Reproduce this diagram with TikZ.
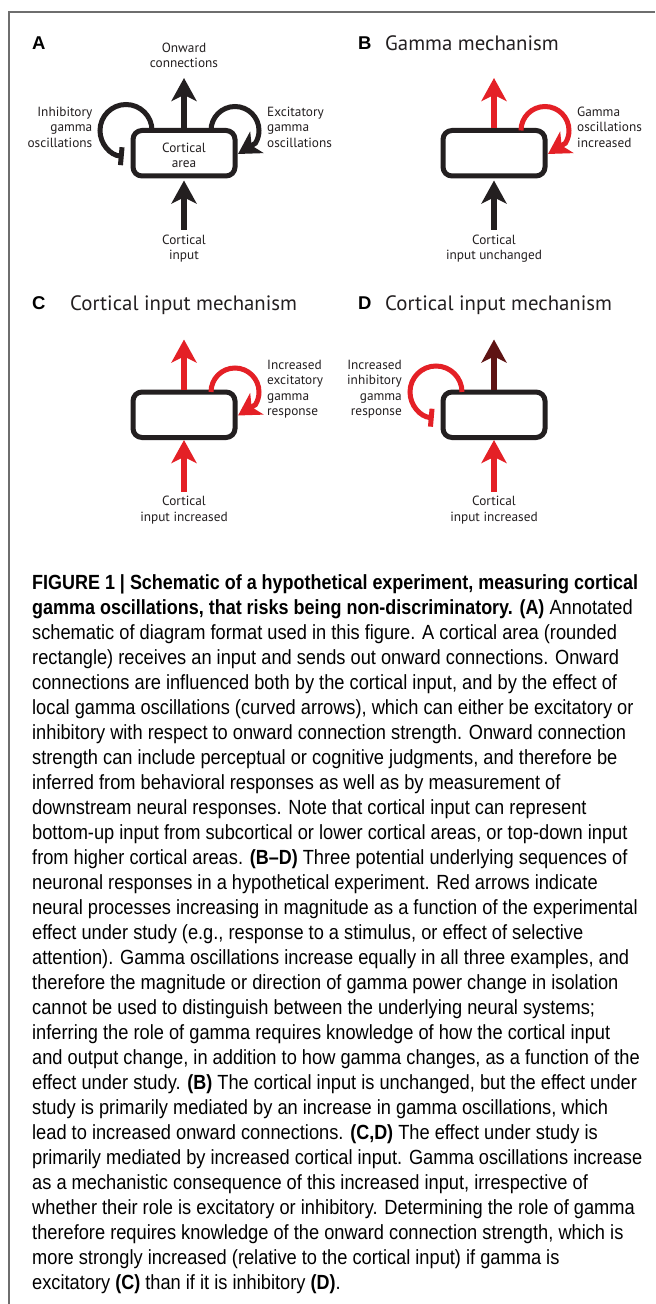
\documentclass[tikz,border=0pt]{standalone}
\usepackage{fontspec}
\usetikzlibrary{arrows.meta}
\newfontfamily\diagfont{PT Sans}
\newfontfamily\letfont{Liberation Sans}
\newfontfamily\capfont{Liberation Sans}[FakeStretch=0.89, BoldFeatures={FakeStretch=0.876}]
\definecolor{myred}{RGB}{228,32,38}
\definecolor{darkred}{RGB}{94,20,20}
\definecolor{framegray}{RGB}{110,110,110}
\definecolor{ink}{RGB}{35,31,32}
\tikzset{
  cbox/.style={draw=ink, line width=5bp, rounded corners=9bp, minimum width=102bp, minimum height=45.5bp, inner sep=0pt},
  shaft/.style={line width=6bp, -{Stealth[length=23bp,width=25bp,inset=6bp]}},
  loopexc/.style={line width=5bp, -{Stealth[length=22bp,width=25bp,inset=6bp]}},
  loopinh/.style={line width=5bp, -{Bar[width=18bp]}},
  lbl/.style={inner sep=0pt, text=ink, font=\diagfont\fontsize{13.3bp}{15.5bp}\selectfont},
  letter/.style={inner sep=0pt, text=black, font=\letfont\bfseries\fontsize{18.5bp}{20bp}\selectfont},
  paneltitle/.style={inner sep=0pt, text=ink, font=\diagfont\fontsize{20.8bp}{24bp}\selectfont},
  capl/.style={inner sep=0pt, anchor=base west, text=black, font=\capfont\fontsize{20.5bp}{25bp}\selectfont},
  framel/.style={draw=framegray, line width=1.5bp}
}
\begin{document}
\begin{tikzpicture}[x=1bp, y=-1bp]
\useasboundingbox (0,0) rectangle (655,1304);
\fill[white] (0,0) rectangle (655,1304);
\draw[framel] (9,1304) -- (9,12) -- (655,12);

% titles
\node[letter, anchor=base west] (labA) at (32,50) {A};
\node[letter, anchor=base west] (labB) at (358,50) {B};
\node[paneltitle, anchor=base west] (titB) at (385,51) {Gamma mechanism};
\node[letter, anchor=base west] (labC) at (32,310) {C};
\node[paneltitle, anchor=base west] (titC) at (70,311) {Cortical input mechanism};
\node[letter, anchor=base west] (labD) at (358,310) {D};
\node[paneltitle, anchor=base west] (titD) at (385,311) {Cortical input mechanism};

% ---------- Panel A ----------
\node[cbox] (boxA) at (184,153.25) {};
\node[lbl, align=center] (boxAtxt) at (184,155.3) {Cortical\\area};
\coordinate (onA) at (184,78);
\coordinate (inA) at (184,230);
\draw[shaft, ink] (boxA.north) -- (onA);
\draw[shaft, ink, shorten >=2bp] (inA) -- (boxA.south);
\draw[loopinh, ink] (152,130.5) arc[start angle=0, end angle=-265, radius=26];
\draw[loopexc, ink] (211,130.5) arc[start angle=-180, end angle=32, radius=24] -- (238,154);
\node[lbl, align=center] (onAl) at (184,55.5) {Onward\\connections};
\node[lbl, align=center] (inAl) at (184,248.5) {Cortical\\input};
\node[lbl, align=right, anchor=east] (inhAl) at (92.5,127.2) {Inhibitory\\gamma\\oscillations};
\node[lbl, align=left, anchor=west] (excAl) at (267,127.2) {Excitatory\\gamma\\oscillations};

% ---------- Panel B ----------
\begin{scope}[shift={(310,0)}]
\node[cbox] (boxB) at (184,153.25) {};
\coordinate (onB) at (184,78);
\coordinate (inB) at (184,230);
\draw[shaft, myred] (boxB.north) -- (onB);
\draw[shaft, ink, shorten >=2bp] (inB) -- (boxB.south);
\draw[loopexc, myred] (211,130.5) arc[start angle=-180, end angle=32, radius=24] -- (238,154);
\node[lbl, align=left, anchor=west] (gamBl) at (267,127.2) {Gamma\\oscillations\\increased};
\node[lbl, align=center] (inBl) at (184,248.5) {Cortical\\input unchanged};
\end{scope}

% ---------- Panel C ----------
\begin{scope}[shift={(0,261.5)}]
\node[cbox] (boxC) at (184,153.25) {};
\coordinate (onC) at (184,78);
\coordinate (inC) at (184,230);
\draw[shaft, myred] (boxC.north) -- (onC);
\draw[shaft, myred] (inC) -- (boxC.south);
\draw[loopexc, myred] (211,130.5) arc[start angle=-180, end angle=32, radius=24] -- (238,154);
\node[lbl, align=left, anchor=west] (excCl) at (267,127.5) {Increased\\excitatory\\gamma\\response};
\node[lbl, align=center] (inCl) at (184,248.5) {Cortical\\input increased};
\end{scope}

% ---------- Panel D ----------
\begin{scope}[shift={(310,261.5)}]
\node[cbox] (boxD) at (184,153.25) {};
\coordinate (onD) at (184,78);
\coordinate (inD) at (184,230);
\draw[shaft, darkred] (boxD.north) -- (onD);
\draw[shaft, myred] (inD) -- (boxD.south);
\draw[loopinh, myred] (152,130.5) arc[start angle=0, end angle=-265, radius=26];
\node[lbl, align=right, anchor=east] (inhDl) at (92,127.5) {Increased\\inhibitory\\gamma\\response};
\node[lbl, align=center] (inDl) at (184,248.5) {Cortical\\input increased};
\end{scope}

% ---------- Caption ----------
\foreach \t [count=\i] in {
{\textbf{FIGURE 1 | Schematic of a hypothetical experiment, measuring cortical}},
{\textbf{gamma oscillations, that risks being non-discriminatory. (A)} Annotated},
{schematic of diagram format used in this figure. A cortical area (rounded},
{rectangle) receives an input and sends out onward connections. Onward},
{connections are influenced both by the cortical input, and by the effect of},
{local gamma oscillations (curved arrows), which can either be excitatory or},
{inhibitory with respect to onward connection strength. Onward connection},
{strength can include perceptual or cognitive judgments, and therefore be},
{inferred from behavioral responses as well as by measurement of},
{downstream neural responses. Note that cortical input can represent},
{bottom-up input from subcortical or lower cortical areas, or top-down input},
{from higher cortical areas. \textbf{(B–D)} Three potential underlying sequences of},
{neuronal responses in a hypothetical experiment. Red arrows indicate},
{neural processes increasing in magnitude as a function of the experimental},
{effect under study (e.g., response to a stimulus, or effect of selective},
{attention). Gamma oscillations increase equally in all three examples, and},
{therefore the magnitude or direction of gamma power change in isolation},
{cannot be used to distinguish between the underlying neural systems;},
{inferring the role of gamma requires knowledge of how the cortical input},
{and output change, in addition to how gamma changes, as a function of the},
{effect under study. \textbf{(B)} The cortical input is unchanged, but the effect under},
{study is primarily mediated by an increase in gamma oscillations, which},
{lead to increased onward connections. \textbf{(C,D)} The effect under study is},
{primarily mediated by increased cortical input. Gamma oscillations increase},
{as a mechanistic consequence of this increased input, irrespective of},
{whether their role is excitatory or inhibitory. Determining the role of gamma},
{therefore requires knowledge of the onward connection strength, which is},
{more strongly increased (relative to the cortical input) if gamma is},
{excitatory \textbf{(C)} than if it is inhibitory \textbf{(D)}.}
}{
  \node[capl] (cap\i) at (32,{589+25*(\i-1)}) {\t};
}
\end{tikzpicture}
\end{document}
